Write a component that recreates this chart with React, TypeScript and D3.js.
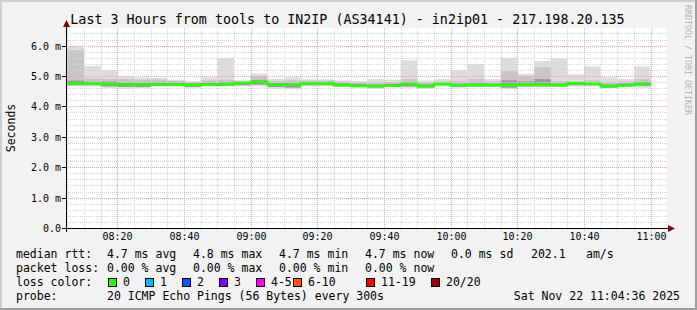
import React from "react";
import * as d3 from "d3";

// ---- data ----
const START = Date.UTC(2025, 10, 22, 8, 4, 36);
const END = Date.UTC(2025, 10, 22, 11, 4, 36);
const FIRST_BAR = Date.UTC(2025, 10, 22, 8, 5, 0);
const STEP_MS = 300000;

const smokeMax = [5.98, 5.33, 5.19, 4.99, 4.95, 4.94, 4.88, 4.84, 4.96, 5.6, 4.86, 5.08, 4.91, 4.96, 4.89, 4.89, 4.86, 4.83, 4.9, 4.88, 5.52, 4.85, 4.9, 5.19, 5.4, 4.9, 5.6, 5.07, 5.49, 5.58, 5.05, 5.32, 4.96, 4.9, 5.32];
const smokeHi1 = [5.84, 4.92, 4.9, 4.9, 4.88, 4.88, 4.84, 4.8, 4.86, 4.88, 4.82, 5.0, 4.84, 4.86, 4.85, 4.85, 4.82, 4.8, 4.8, 4.8, 4.9, 4.78, 4.82, 4.84, 4.9, 4.82, 5.16, 5.0, 5.29, 4.84, 4.82, 4.85, 4.8, 4.82, 4.9];
const smokeHi2 = [4.85, 4.8, 4.82, 4.78, 4.78, 4.79, 4.79, 4.76, 4.78, 4.8, 4.79, 4.86, 4.77, 4.76, 4.8, 4.8, 4.76, 4.74, 4.72, 4.74, 4.78, 4.72, 4.77, 4.75, 4.76, 4.75, 4.86, 4.82, 4.9, 4.76, 4.79, 4.78, 4.72, 4.75, 4.8];
const medianRtt = [4.76, 4.75, 4.74, 4.71, 4.73, 4.73, 4.72, 4.7, 4.72, 4.73, 4.77, 4.8, 4.71, 4.71, 4.75, 4.75, 4.7, 4.67, 4.67, 4.68, 4.74, 4.67, 4.74, 4.69, 4.7, 4.7, 4.7, 4.72, 4.71, 4.7, 4.76, 4.74, 4.66, 4.7, 4.74];
const smokeLo = [4.7, 4.7, 4.66, 4.64, 4.64, 4.68, 4.68, 4.64, 4.68, 4.68, 4.7, 4.72, 4.64, 4.62, 4.7, 4.7, 4.66, 4.64, 4.62, 4.65, 4.66, 4.62, 4.7, 4.65, 4.66, 4.66, 4.62, 4.66, 4.66, 4.66, 4.7, 4.7, 4.62, 4.66, 4.68];
const smokeMin = [4.66, 4.66, 4.61, 4.58, 4.6, 4.66, 4.66, 4.61, 4.66, 4.66, 4.66, 4.66, 4.58, 4.56, 4.66, 4.66, 4.64, 4.62, 4.58, 4.63, 4.61, 4.58, 4.66, 4.62, 4.63, 4.63, 4.56, 4.63, 4.63, 4.63, 4.66, 4.66, 4.61, 4.63, 4.61];

const yTickValues = [0, 1, 2, 3, 4, 5, 6];
const yTickLabels = ["0.0", "1.0 m", "2.0 m", "3.0 m", "4.0 m", "5.0 m", "6.0 m"];

const title = "Last 3 Hours from tools to IN2IP (AS34141) - in2ip01 - 217.198.20.135";
const legendRows = [
  { label: "median rtt:", items: ["4.7 ms avg", "4.8 ms max", "4.7 ms min", "4.7 ms now", "0.0 ms sd", "202.1", "am/s"] },
  { label: "packet loss:", items: ["0.00 % avg", "0.00 % max", "0.00 % min", "0.00 % now"] },
];
const legendCols = [107, 193, 279, 365, 451, 531, 586];
const lossLabels = ["0", "1", "2", "3", "4-5", "6-10", "11-19", "20/20"];
const lossColors = ["#26ff00", "#00b8ff", "#0059ff", "#7e00ff", "#ff00ff", "#ff5500", "#ff0000", "#a10000"];
const lossX = [108, 145, 182, 219, 256, 293, 366, 431];
const probeText = "20 ICMP Echo Pings (56 Bytes) every 300s";
const dateText = "Sat Nov 22 11:04:36 2025";

// ---- layout ----
const W = 697, H = 310;
const X0 = 66, X1 = 666, Y0 = 228, Y1 = 28;
const MONO = "'DejaVu Sans Mono', monospace";

export default function App() {
  const x = d3.scaleUtc().domain([START, END]).range([X0, X1]);
  const y = d3.scaleLinear().domain([0, 6.58]).range([Y0, Y1]);
  const px = (v: number) => Math.round(v) + 0.5;

  const minorX = d3.utcMinute.every(5)!.range(new Date(START), new Date(END));
  const majorX = d3.utcMinute.every(20)!.range(new Date(START), new Date(END));
  const minorY = d3.range(1, 33).map((i) => i * 0.2).filter((v) => Math.abs(v - Math.round(v)) > 1e-6);
  const fmt = d3.utcFormat("%H:%M");

  const bars = medianRtt.map((m, i) => {
    const t0 = FIRST_BAR + i * STEP_MS;
    return { x0: x(t0), x1: x(t0 + STEP_MS), i };
  });

  const medPts: [number, number][] = medianRtt.map((m, i) => [x(FIRST_BAR + i * STEP_MS), y(m)]);
  medPts.push([x(FIRST_BAR + medianRtt.length * STEP_MS), y(medianRtt[medianRtt.length - 1])]);
  const medLine = d3.line().curve(d3.curveStepAfter)(medPts) || "";

  const band = (i: number, top: number, bot: number, fill: string) => (
    <rect key={fill + i} x={bars[i].x0} width={bars[i].x1 - bars[i].x0} y={y(top)} height={Math.max(0, y(bot) - y(top))} fill={fill} />
  );

  return (
    <svg width={W} height={H} style={{ position: "absolute", left: 0, top: 0 }}>
      <rect x={0} y={0} width={W} height={H} fill="#f2f2f2" />
      <rect x={0} y={0} width={W} height={2} fill="#cfcfcf" />
      <rect x={0} y={0} width={2} height={H} fill="#cfcfcf" />
      <rect x={W - 2} y={0} width={2} height={H} fill="#9e9e9e" />
      <rect x={0} y={H - 2} width={W} height={2} fill="#9e9e9e" />

      <rect x={X0} y={Y1} width={X1 - X0 + 1} height={Y0 - Y1} fill="#ffffff" />

      {/* smoke */}
      {bars.map((b) => band(b.i, smokeMax[b.i], smokeMin[b.i], "#dddddd"))}
      {bars.map((b) => band(b.i, smokeHi1[b.i], smokeLo[b.i], "#c6c6c6"))}
      {bars.map((b) => band(b.i, smokeHi2[b.i], smokeLo[b.i], "#999999"))}

      {/* grid */}
      <g shapeRendering="crispEdges">
        {minorY.map((v) => (
          <line key={"my" + v} x1={X0} x2={X1 + 2} y1={px(y(v))} y2={px(y(v))} stroke="#d4d4d4" strokeDasharray="1,1" />
        ))}
        {minorX.map((t) => (
          <line key={"mx" + +t} x1={px(x(t))} x2={px(x(t))} y1={Y1} y2={Y0 + 3} stroke="#d4d4d4" strokeDasharray="1,1" />
        ))}
        {yTickValues.slice(1).map((v) => (
          <line key={"My" + v} x1={X0} x2={X1 + 2} y1={px(y(v))} y2={px(y(v))} stroke="#f2a4a4" strokeDasharray="1,1" />
        ))}
        {majorX.map((t) => (
          <line key={"Mx" + +t} x1={px(x(t))} x2={px(x(t))} y1={Y1} y2={Y0 + 3} stroke="#f2a4a4" strokeDasharray="1,1" />
        ))}
      </g>

      {/* median */}
      <path d={medLine} fill="none" stroke="#26ff00" strokeWidth={2.5} />

      {/* axes */}
      <g shapeRendering="crispEdges">
        <line x1={X0 - 4} x2={X1 + 3} y1={Y0 + 0.5} y2={Y0 + 0.5} stroke="#000" />
        <line x1={X0 + 0.5} x2={X0 + 0.5} y1={Y0 + 4} y2={Y1 - 4} stroke="#000" />
        {yTickValues.map((v) => (
          <line key={"yt" + v} x1={X0 - 4} x2={X0} y1={px(y(v))} y2={px(y(v))} stroke="#000" />
        ))}
      </g>
      <polygon points={`${X0 + 0.5},${Y1 - 8} ${X0 - 3},${Y1 - 1} ${X0 + 4},${Y1 - 1}`} fill="#7f0000" />
      <polygon points={`${X1 + 9},${Y0 + 0.5} ${X1 + 2},${Y0 - 3} ${X1 + 2},${Y0 + 4}`} fill="#7f0000" />

      {/* tick labels */}
      <g fontFamily={MONO} fontSize={10} fill="#000">
        {yTickValues.map((v, i) => (
          <text key={"yl" + v} x={61} y={px(y(v)) + 3.5} textAnchor="end">{yTickLabels[i]}</text>
        ))}
        {majorX.map((t) => (
          <text key={"xl" + +t} x={px(x(t))} y={240} textAnchor="middle">{fmt(t)}</text>
        ))}
      </g>

      {/* title & labels */}
      <text x={347.5} y={24} textAnchor="middle" fontFamily={MONO} fontSize={13.35} fill="#000">{title}</text>
      <text transform={`translate(15,${(Y0 + Y1) / 2}) rotate(-90)`} textAnchor="middle" fontFamily={MONO} fontSize={11.5} fill="#000">Seconds</text>
      <text transform="translate(685,5) rotate(90)" fontFamily={MONO} fontSize={8.3} fill="#b4b4b4">RRDTOOL / TOBI OETIKER</text>

      {/* legend */}
      <g fontFamily={MONO} fontSize={11.5} fill="#000">
        {legendRows.map((r, ri) => (
          <g key={r.label}>
            <text x={16} y={258 + ri * 13.7}>{r.label}</text>
            {r.items.map((it, ci) => (
              <text key={it + ci} x={legendCols[ci]} y={258 + ri * 13.7}>{it}</text>
            ))}
          </g>
        ))}
        <text x={16} y={285.5}>loss color:</text>
        {lossLabels.map((l, i) => (
          <g key={l}>
            <rect x={lossX[i] + 0.5} y={278.5} width={8} height={8} fill={lossColors[i]} stroke="#000" />
            <text x={lossX[i] + 15} y={285.5}>{l}</text>
          </g>
        ))}
        <text x={16} y={299.5}>probe:</text>
        <text x={107} y={299.5}>{probeText}</text>
        <text x={680} y={299.5} textAnchor="end">{dateText}</text>
      </g>
    </svg>
  );
}
